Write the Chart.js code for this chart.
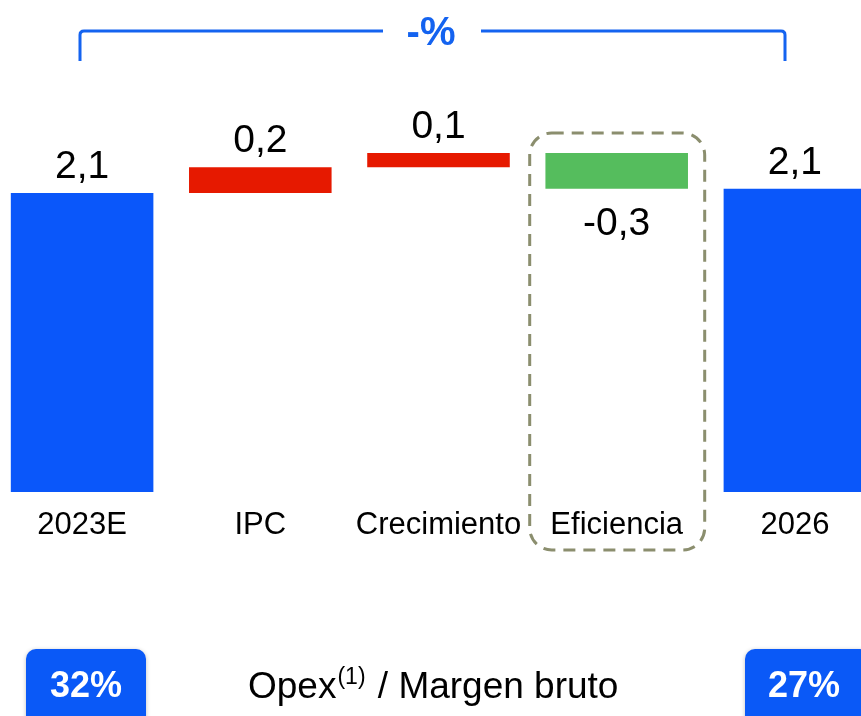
<!DOCTYPE html>
<html>
<head>
<meta charset="utf-8">
<script src="https://cdn.jsdelivr.net/npm/chart.js@4.4.1/dist/chart.umd.min.js"></script>
<style>
  html, body { margin: 0; padding: 0; background: #fff; }
  #wrap { position: relative; width: 861px; height: 716px; overflow: hidden; }
  #box { position: absolute; left: -7px; top: 0; width: 891px; height: 716px; }
</style>
</head>
<body>
<div id="wrap">
  <div id="box"><canvas id="myChart"></canvas></div>
</div>
<script>
// waterfall data (floating bars: from / to)
const categories = ['2023E', 'IPC', 'Crecimiento', 'Eficiencia', '2026'];
const barFrom = [0, 2.10, 2.28, 2.13, 0];
const barTo = [2.10, 2.28, 2.38, 2.38, 2.13];
const valueLabels = ['2,1', '0,2', '0,1', '-0,3', '2,1'];
const barColors = ['#0A57FA', '#E61900', '#E61900', '#55BD5D', '#0A57FA'];
const ratioLabels = ['32%', '27%'];
const ratioTitle = 'Opex';
const ratioNote = '(1)';
const ratioRest = ' / Margen bruto';
const bracketLabel = '-%';

const FONT = '"Liberation Sans", Arial, sans-serif';
const OFFSET_X = -7; // canvas sits 7px left of the page

function roundRect(ctx, x, y, w, h, r) {
    ctx.beginPath();
    ctx.moveTo(x + r, y);
    ctx.lineTo(x + w - r, y);
    ctx.arcTo(x + w, y, x + w, y + r, r);
    ctx.lineTo(x + w, y + h - r);
    ctx.arcTo(x + w, y + h, x + w - r, y + h, r);
    ctx.lineTo(x + r, y + h);
    ctx.arcTo(x, y + h, x, y + h - r, r);
    ctx.lineTo(x, y + r);
    ctx.arcTo(x, y, x + r, y, r);
    ctx.closePath();
}

const extrasPlugin = {
    id: 'extras',
    afterDatasetsDraw(chart) {
        const ctx = chart.ctx;
        const meta = chart.getDatasetMeta(0);
        ctx.save();
        ctx.translate(-OFFSET_X, 0); // draw in page coordinates

        // value labels
        ctx.fillStyle = '#000';
        ctx.font = '39px ' + FONT;
        ctx.textAlign = 'center';
        ctx.textBaseline = 'alphabetic';
        meta.data.forEach(function (bar, i) {
            const x = bar.x + OFFSET_X;
            const top = Math.min(bar.y, bar.base);
            const bottom = Math.max(bar.y, bar.base);
            if (valueLabels[i].charAt(0) === '-') {
                ctx.fillText(valueLabels[i], x, bottom + 46);
            } else {
                ctx.fillText(valueLabels[i], x, top - 15);
            }
        });

        // dashed highlight around Eficiencia
        const eff = meta.data[3];
        const ex = eff.x + OFFSET_X;
        ctx.strokeStyle = '#8B8E6E';
        ctx.lineWidth = 3;
        ctx.setLineDash([12, 8]);
        roundRect(ctx, ex - 87, 133, 175, 417, 22);
        ctx.stroke();
        ctx.setLineDash([]);

        // bracket on top
        ctx.strokeStyle = '#1463F0';
        ctx.lineWidth = 3;
        ctx.beginPath();
        ctx.moveTo(80, 61);
        ctx.lineTo(80, 35);
        ctx.quadraticCurveTo(80, 31, 84, 31);
        ctx.lineTo(383, 31);
        ctx.moveTo(481, 31);
        ctx.lineTo(781, 31);
        ctx.quadraticCurveTo(785, 31, 785, 35);
        ctx.lineTo(785, 61);
        ctx.stroke();
        ctx.fillStyle = '#1463F0';
        ctx.font = 'bold 40px ' + FONT;
        ctx.fillText(bracketLabel, 431, 45);

        // bottom ratio boxes
        ctx.shadowColor = 'rgba(0,0,0,0.25)';
        ctx.shadowBlur = 4;
        ctx.shadowOffsetY = 1;
        ctx.fillStyle = '#0A59F7';
        roundRect(ctx, 26, 649, 120, 80, 10);
        ctx.fill();
        roundRect(ctx, 745, 649, 125, 80, 10);
        ctx.fill();
        ctx.shadowColor = 'transparent';
        ctx.fillStyle = '#fff';
        ctx.font = 'bold 36px ' + FONT;
        ctx.fillText(ratioLabels[0], 86, 697);
        ctx.fillText(ratioLabels[1], 804, 697);

        // Opex(1) / Margen bruto
        ctx.fillStyle = '#000';
        ctx.textAlign = 'left';
        let x = 248;
        ctx.font = '37px ' + FONT;
        ctx.fillText(ratioTitle, x, 698);
        x += ctx.measureText(ratioTitle).width + 1;
        ctx.font = '23px ' + FONT;
        ctx.fillText(ratioNote, x, 684);
        x += ctx.measureText(ratioNote).width + 2;
        ctx.font = '37px ' + FONT;
        ctx.fillText(ratioRest, x, 698);

        ctx.restore();
    }
};

const ctx = document.getElementById('myChart').getContext('2d');
const myChart = new Chart(ctx, {
    type: 'bar',
    data: {
        labels: categories,
        datasets: [{
            data: categories.map(function (c, i) { return [barFrom[i], barTo[i]]; }),
            backgroundColor: barColors,
            borderWidth: 0,
            borderSkipped: false,
            barPercentage: 0.8,
            categoryPercentage: 1
        }]
    },
    options: {
        responsive: true,
        maintainAspectRatio: false,
        animation: false,
        layout: { padding: 0 },
        plugins: {
            legend: { display: false },
            tooltip: { enabled: false }
        },
        scales: {
            x: {
                grid: { display: false, drawTicks: false },
                border: { display: false },
                ticks: {
                    color: '#000',
                    padding: 15,
                    font: { family: FONT, size: 31 }
                },
                afterFit: function (axis) { axis.height = 224; }
            },
            y: {
                display: false,
                min: 0,
                max: 3.455
            }
        }
    },
    plugins: [extrasPlugin]
});
</script>
</body>
</html>
